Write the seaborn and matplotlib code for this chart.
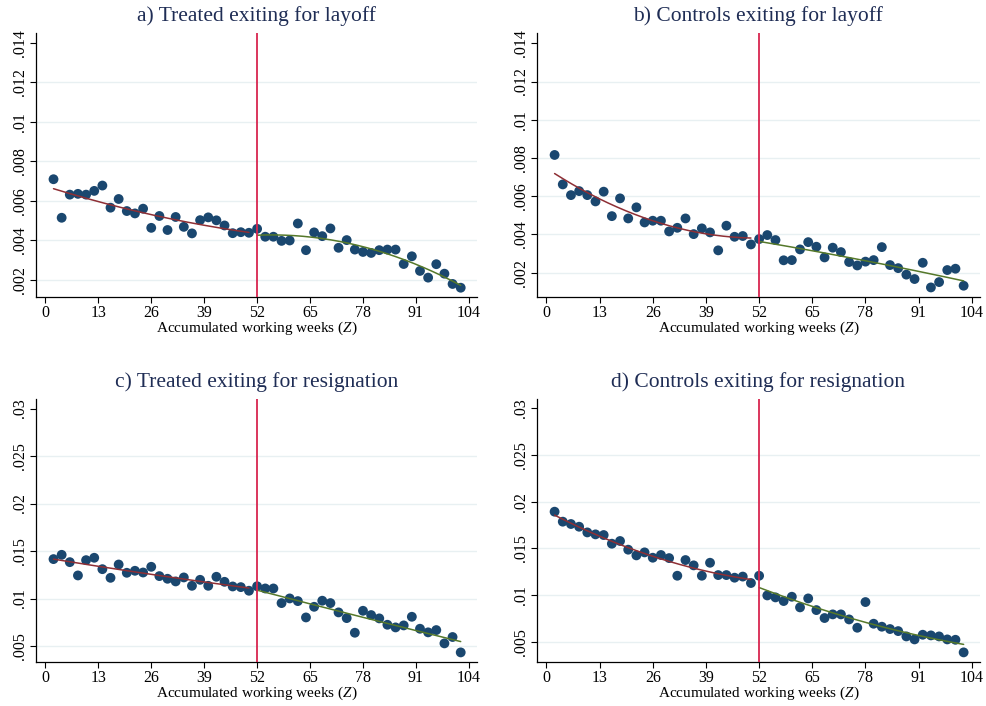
import numpy as np
import pandas as pd
import seaborn as sns
import matplotlib
matplotlib.use("Agg")
import matplotlib.pyplot as plt
from matplotlib.ticker import FuncFormatter

# Accumulated working weeks at which exit rates are measured
weeks = list(range(2, 104, 2))

treated_layoff = [
    0.00710, 0.00515, 0.00632, 0.00636, 0.00632, 0.00651, 0.00678, 0.00566, 0.00610, 0.00549,
    0.00537, 0.00561, 0.00464, 0.00524, 0.00453, 0.00519, 0.00469, 0.00436, 0.00503, 0.00517,
    0.00502, 0.00476, 0.00437, 0.00442, 0.00439, 0.00459, 0.00419, 0.00419, 0.00398, 0.00400,
    0.00486, 0.00351, 0.00441, 0.00422, 0.00461, 0.00363, 0.00402, 0.00354, 0.00342, 0.00337,
    0.00351, 0.00354, 0.00354, 0.00281, 0.00320, 0.00246, 0.00212, 0.00280, 0.00232, 0.00180,
    0.00161,
]

controls_layoff = [
    0.00816, 0.00662, 0.00606, 0.00627, 0.00606, 0.00573, 0.00624, 0.00496, 0.00589, 0.00484,
    0.00542, 0.00463, 0.00472, 0.00472, 0.00416, 0.00435, 0.00484, 0.00402, 0.00432, 0.00411,
    0.00317, 0.00446, 0.00388, 0.00392, 0.00348, 0.00376, 0.00397, 0.00371, 0.00265, 0.00266,
    0.00322, 0.00360, 0.00336, 0.00280, 0.00331, 0.00308, 0.00256, 0.00238, 0.00258, 0.00266,
    0.00334, 0.00240, 0.00224, 0.00190, 0.00167, 0.00252, 0.00123, 0.00151, 0.00214, 0.00221,
    0.00132,
]

treated_resign = [
    0.01415, 0.01460, 0.01383, 0.01243, 0.01404, 0.01429, 0.01309, 0.01218, 0.01358, 0.01271,
    0.01292, 0.01274, 0.01334, 0.01236, 0.01208, 0.01180, 0.01222, 0.01134, 0.01197, 0.01134,
    0.01229, 0.01176, 0.01127, 0.01120, 0.01082, 0.01129, 0.01106, 0.01106, 0.00952, 0.01001,
    0.00973, 0.00801, 0.00913, 0.00977, 0.00952, 0.00854, 0.00794, 0.00640, 0.00871, 0.00826,
    0.00791, 0.00724, 0.00696, 0.00717, 0.00808, 0.00682, 0.00644, 0.00668, 0.00528, 0.00595,
    0.00433,
]

controls_resign = [
    0.01893, 0.01786, 0.01761, 0.01732, 0.01671, 0.01650, 0.01643, 0.01550, 0.01579, 0.01486,
    0.01425, 0.01457, 0.01400, 0.01429, 0.01396, 0.01207, 0.01375, 0.01318, 0.01207, 0.01346,
    0.01214, 0.01214, 0.01186, 0.01198, 0.01129, 0.01207, 0.00996, 0.00975, 0.00936, 0.00982,
    0.00868, 0.00964, 0.00839, 0.00754, 0.00793, 0.00793, 0.00739, 0.00650, 0.00925, 0.00693,
    0.00661, 0.00636, 0.00614, 0.00557, 0.00525, 0.00575, 0.00568, 0.00557, 0.00525, 0.00521,
    0.00386,
]

titles = [
    "a) Treated exiting for layoff",
    "b) Controls exiting for layoff",
    "c) Treated exiting for resignation",
    "d) Controls exiting for resignation",
]
x_ticks = [0, 13, 26, 39, 52, 65, 78, 91, 104]
y_ticks_layoff = [0.002, 0.004, 0.006, 0.008, 0.010, 0.012, 0.014]
y_ticks_resign = [0.005, 0.010, 0.015, 0.020, 0.025, 0.030]
cutoff = 52

sns.set_theme(style="white")
plt.rcParams["font.family"] = ["Liberation Serif", "DejaVu Serif"]
plt.rcParams["mathtext.fontset"] = "custom"
plt.rcParams["mathtext.it"] = "Liberation Serif:italic"
plt.rcParams["mathtext.rm"] = "Liberation Serif"

W, H = 987, 706
fig = plt.figure(figsize=(W / 100, H / 100), dpi=100)

# panel boxes in pixels: left, right, top, bottom
boxes = [
    (36, 477, 33, 297),
    (537, 980, 33, 297),
    (36, 477, 399, 662),
    (537, 980, 399, 662),
]
ylims = [
    (0.00114, 0.01450),
    (0.00073, 0.01454),
    (0.00332, 0.03100),
    (0.00283, 0.03100),
]
series = [treated_layoff, controls_layoff, treated_resign, controls_resign]
yticks = [y_ticks_layoff, y_ticks_layoff, y_ticks_resign, y_ticks_resign]

navy = "#1a476f"
fit_left = "#8e2f35"
fit_right = "#55782a"
cut_color = "#d8254f"
grid_color = "#e8f0f2"
title_color = "#1f2d55"


def fmt(v, _pos):
    s = f"{v:g}"
    return s[1:] if s.startswith("0.") else s


for box, ylim, vals, yt, title in zip(boxes, ylims, series, yticks, titles):
    l, r, t, b = box
    ax = fig.add_axes([l / W, 1 - b / H, (r - l) / W, (b - t) / H])
    df = pd.DataFrame({"week": weeks, "rate": vals})
    df["side"] = np.where(df["week"] < cutoff, "pre", "post")

    # quadratic fit on each side of the cutoff
    fits = []
    for side in ["pre", "post"]:
        d = df[df["side"] == side]
        coef = np.polyfit(d["week"], d["rate"], 2)
        xs = np.linspace(d["week"].min(), d["week"].max(), 200)
        fits.append(pd.DataFrame({"week": xs, "fit": np.polyval(coef, xs), "side": side}))
    fit_df = pd.concat(fits)

    ax.set_xlim(-2.3, 106)
    ax.set_ylim(*ylim)
    ax.set_yticks(yt)
    ax.set_xticks(x_ticks)
    ax.yaxis.set_major_formatter(FuncFormatter(fmt))
    ax.grid(axis="y", color=grid_color, linewidth=1.0)
    ax.grid(axis="x", visible=False)
    ax.set_axisbelow(True)
    gl = ax.yaxis.get_gridlines()
    gl[-1].set_visible(False)

    sns.scatterplot(data=df, x="week", y="rate", ax=ax, color=navy, s=50,
                    edgecolor="none", linewidth=0, zorder=3)
    sns.lineplot(data=fit_df, x="week", y="fit", hue="side", ax=ax,
                 palette={"pre": fit_left, "post": fit_right}, linewidth=1.1,
                 legend=False, zorder=4)
    ax.axvline(cutoff, color=cut_color, linewidth=1.3, zorder=5)

    for s in ["top", "right"]:
        ax.spines[s].set_visible(False)
    for s in ["left", "bottom"]:
        ax.spines[s].set_color("black")
        ax.spines[s].set_linewidth(0.9)
    ax.tick_params(axis="both", which="major", direction="out", length=4, width=0.8,
                   color="black", labelsize=11.5, labelcolor="black", pad=2,
                   bottom=True, left=True)
    for lab in ax.get_yticklabels():
        lab.set_rotation(90)
        lab.set_va("center")
    ax.set_xlabel("Accumulated working weeks ($\\mathit{Z}$)", fontsize=11, labelpad=-1, color="black")
    ax.set_ylabel("")
    ax.set_title(title, fontsize=15.5, color=title_color, pad=9)

fig.savefig("out.png", dpi=100)
